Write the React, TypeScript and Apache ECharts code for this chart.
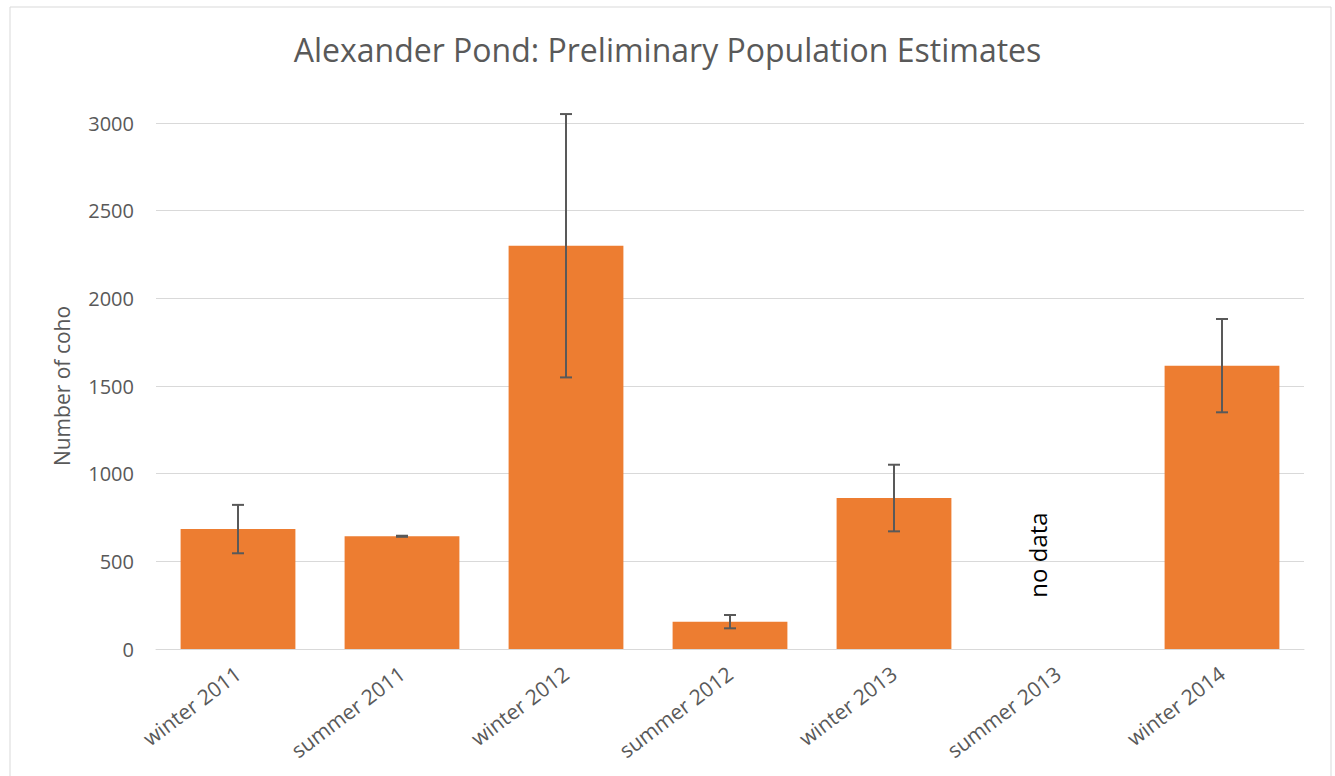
import React, { useEffect, useRef } from "react";
import * as echarts from "echarts";

const categories = ["winter 2011", "summer 2011", "winter 2012", "summer 2012", "winter 2013", "summer 2013", "winter 2014"];
const estimates: (number | null)[] = [684, 643, 2300, 156, 861, null, 1616];
const errors: (number | null)[] = [138, 3, 751, 38, 190, null, 266];
const yTicks = { min: 0, max: 3000, interval: 500 };
const noDataCategory = "summer 2013";
const noDataValue = 536;

export default function App() {
  const ref = useRef<HTMLDivElement>(null);
  useEffect(() => {
    if (!ref.current) return;
    const chart = echarts.init(ref.current, null, { renderer: "svg" });
    const font = "'Open Sans', sans-serif";
    const errData = estimates
      .map((v, i) => (v == null || errors[i] == null ? null : [i, v - (errors[i] as number), v + (errors[i] as number)]))
      .filter((d) => d != null);
    chart.setOption({
      animation: false,
      backgroundColor: "#fff",
      textStyle: { fontFamily: font },
      title: {
        text: "Alexander Pond: Preliminary Population Estimates",
        left: "center",
        top: 28,
        textStyle: { fontFamily: font, fontSize: 32, fontWeight: "normal", color: "#595959" },
      },
      graphic: [
        {
          type: "rect",
          shape: { x: 10, y: 7, width: 1321, height: 790 },
          style: { fill: "none", stroke: "#d9d9d9", lineWidth: 1 },
          silent: true,
        },
      ],
      grid: { left: 156, right: 31, top: 123, bottom: 127, containLabel: false },
      xAxis: {
        type: "category",
        data: categories,
        axisLine: { lineStyle: { color: "#d9d9d9", width: 1 } },
        axisTick: { show: false },
        axisLabel: { rotate: 37, fontSize: 21, color: "#595959", fontFamily: font, margin: 22, interval: 0 },
      },
      yAxis: {
        type: "value",
        min: yTicks.min,
        max: yTicks.max,
        interval: yTicks.interval,
        name: "Number of coho",
        nameLocation: "middle",
        nameGap: 84,
        nameTextStyle: { fontSize: 21, color: "#595959", fontFamily: font },
        axisLine: { show: false },
        axisTick: { show: false },
        axisLabel: { fontSize: 20, color: "#595959", fontFamily: font, margin: 22, formatter: (v: number) => String(v) },
        splitLine: { lineStyle: { color: "#d9d9d9", width: 1 } },
      },
      series: [
        {
          type: "bar",
          data: estimates,
          barCategoryGap: "30%",
          itemStyle: { color: "#ED7D31" },
          markPoint: {
            symbol: "circle",
            symbolSize: 0,
            data: [{ coord: [noDataCategory, noDataValue], value: 0 }],
            label: {
              show: true,
              formatter: "no data",
              rotate: 90,
              position: "inside",
              offset: [0, -21],
              color: "#000",
              fontSize: 24,
              fontFamily: font,
            },
          },
        },
        {
          type: "custom",
          data: errData,
          z: 10,
          renderItem: (params: any, api: any) => {
            const x = api.value(0);
            const lo = api.coord([x, api.value(1)]);
            const hi = api.coord([x, api.value(2)]);
            const cap = 6;
            const style = { stroke: "#595959", lineWidth: 2 };
            return {
              type: "group",
              children: [
                { type: "line", shape: { x1: lo[0], y1: lo[1], x2: hi[0], y2: hi[1] }, style },
                { type: "line", shape: { x1: lo[0] - cap, y1: lo[1], x2: lo[0] + cap, y2: lo[1] }, style },
                { type: "line", shape: { x1: hi[0] - cap, y1: hi[1], x2: hi[0] + cap, y2: hi[1] }, style },
              ],
            };
          },
        },
      ],
    });
    return () => chart.dispose();
  }, []);
  return <div ref={ref} style={{ position: "fixed", left: 0, top: 0, width: 1335, height: 776 }} />;
}
